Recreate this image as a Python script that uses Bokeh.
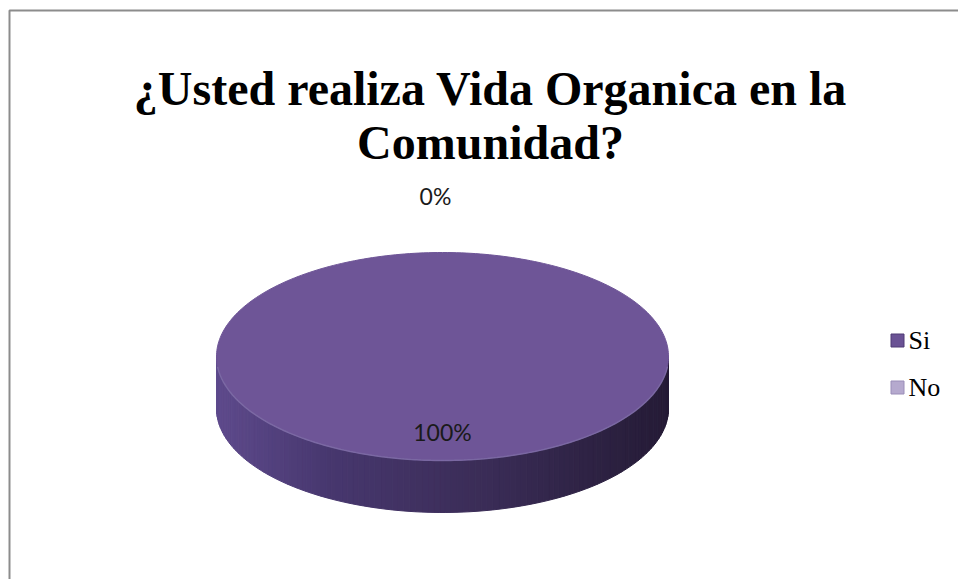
import numpy as np
from bokeh.plotting import figure
from bokeh.models import Range1d
from bokeh.core.properties import value
from bokeh.embed import file_html
from bokeh.resources import INLINE

# ---- data ----
categories = ["Si", "No"]
values = [100, 0]
pct_labels = ["100%", "0%"]
title_lines = ["¿Usted realiza Vida Organica en la", "Comunidad?"]

# ---- styles / layout ----
W, H = 958, 579
CX, CY = 442, 356          # pie centre (px)
A, B = 226, 104            # ellipse semi axes
DEPTH = 52
top_colors = ["#6E5597", "#B8ACD0"]

p = figure(width=W, height=H, x_range=Range1d(0, W), y_range=Range1d(H, 0),
           output_backend="svg", toolbar_location=None, min_border=0,
           x_axis_location=None, y_axis_location=None)
p.grid.visible = False
p.outline_line_color = None
p.background_fill_color = "white"
p.border_fill_color = "white"

# chart-area border (only left and top visible in the frame)
p.line(x=[9, 9, W + 20], y=[H + 20, 10, 10], line_color="#8C8C8C", line_width=2)


def pt(theta, dy=0.0):
    # theta clockwise from 12 o'clock
    return CX + A * np.sin(theta), CY - B * np.cos(theta) + dy


def lerp_color(c1, c2, t):
    a = np.array([int(c1[i:i + 2], 16) for i in (1, 3, 5)], float)
    b = np.array([int(c2[i:i + 2], 16) for i in (1, 3, 5)], float)
    c = a + (b - a) * t
    return "#%02x%02x%02x" % tuple(int(round(v)) for v in c)


def side_color(x):
    t = (x - (CX - A)) / (2 * A)
    if t < 0.25:
        return lerp_color("#5E4A8C", "#47376E", t / 0.25)
    if t < 0.6:
        return lerp_color("#47376E", "#3A2C56", (t - 0.25) / 0.35)
    return lerp_color("#3A2C56", "#251B36", (t - 0.6) / 0.4)


total = float(sum(values))
fracs = [v / total for v in values]
starts = np.concatenate([[0.0], np.cumsum(fracs)[:-1]]) * 2 * np.pi
ends = np.cumsum(fracs) * 2 * np.pi

# ---- side walls (front half only) ----
sx, sy, sc = [], [], []
for s, e in zip(starts, ends):
    lo, hi = max(s, np.pi / 2), min(e, 3 * np.pi / 2)
    if hi <= lo:
        continue
    th = np.linspace(lo, hi, 120)
    for i in range(len(th) - 1):
        x1, y1 = pt(th[i])
        x2, y2 = pt(th[i + 1])
        sx.append([x1, x2, x2, x1])
        sy.append([y1, y2, y2 + DEPTH, y1 + DEPTH])
        sc.append(side_color((x1 + x2) / 2))
p.patches(xs=sx, ys=sy, fill_color=sc, line_color=sc, line_width=1)

# ---- top faces ----
for s, e, col in zip(starts, ends, top_colors):
    if e - s <= 0:
        continue
    th = np.linspace(s, e, 300)
    xs, ys = pt(th)
    if e - s < 2 * np.pi - 1e-9:
        xs = np.concatenate([[CX], xs])
        ys = np.concatenate([[CY], ys])
    p.patch(xs, ys, fill_color=col, line_color=col, line_width=1)

# subtle highlight along front edge
th = np.linspace(np.pi / 2 + 0.1, 3 * np.pi / 2 - 0.1, 200)
hx, hy = pt(th)
p.line(hx, hy, line_color="#8272AA", line_width=1.5, line_alpha=0.7)

# ---- percentage labels ----
lx, ly = [], []
for s, e, f in zip(starts, ends, fracs):
    mid = (s + e) / 2
    if f > 0:
        x, y = CX, CY - 0.73 * B * np.cos(mid)
    else:
        x, y = CX - 7, CY - B - 57
    lx.append(x)
    ly.append(y)
p.text(x=lx, y=ly, text=pct_labels, text_font=value("Lato"),
       text_font_size="23px", text_color="#1A1A1A",
       text_align="center", text_baseline="middle")

# ---- title ----
p.text(x=[490, 490], y=[88, 142], text=title_lines,
       text_font=value("Liberation Serif"), text_font_style="bold",
       text_font_size="48px", text_color="black",
       text_align="center", text_baseline="alphabetic")

# ---- legend ----
leg_y = [340, 387]
p.scatter(x=[897, 897], y=leg_y, marker="square", size=13,
          fill_color=["#6A5294", "#B5A9CE"], line_color=["#4E3B74", "#9A8DB8"])
p.text(x=[908, 908], y=leg_y, text=categories,
       text_font=value("Liberation Serif"), text_font_size="26px",
       text_color="black", text_align="left", text_baseline="middle")

open("out.html", "w").write(file_html(p, INLINE))
